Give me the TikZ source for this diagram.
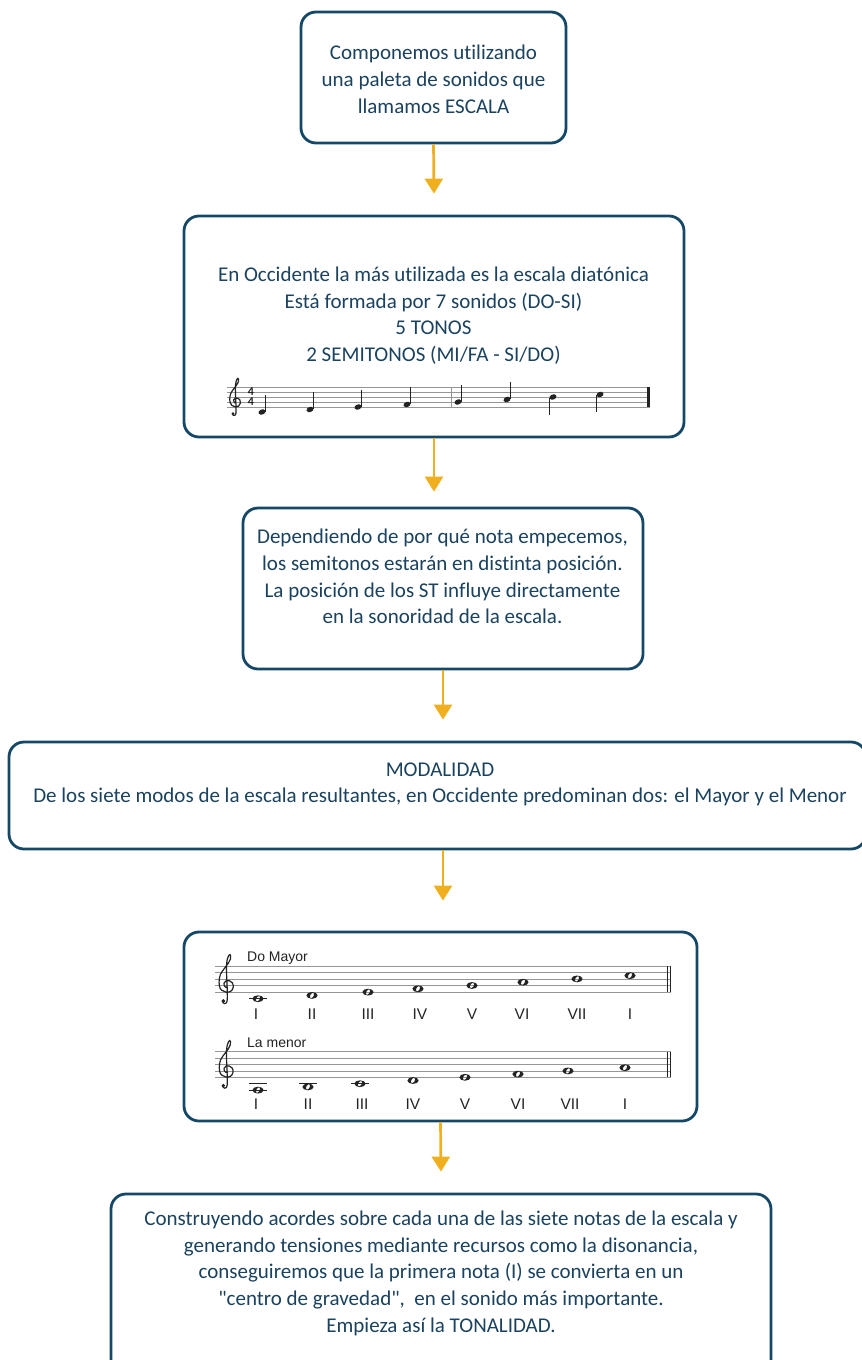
\documentclass[tikz,border=0pt]{standalone}
\usepackage{fontspec}
\setmainfont{Carlito}[Ligatures={TeXOff,NoCommon}]
\newfontfamily\arialf{Liberation Sans}
\usetikzlibrary{arrows.meta,calc}
\definecolor{navy}{RGB}{21,71,103}
\definecolor{txtc}{RGB}{27,66,94}
\definecolor{arrowc}{RGB}{240,175,30}
\definecolor{staffc}{RGB}{150,150,150}
\definecolor{notec}{RGB}{35,35,35}
\begin{document}
\begin{tikzpicture}[x=1pt,y=-1pt,
  box/.style={draw=navy,line width=2.8pt,rounded corners=15pt,fill=white,inner sep=0pt},
  body/.style={text=txtc,font=\fontsize{21}{26.7}\selectfont,align=center,inner sep=0pt},
  flow/.style={draw=arrowc,line width=2.7pt,-{Triangle[width=18pt,length=15pt]}},
  sline/.style={draw=staffc,line width=0.8pt},
  barl/.style={draw=notec,line width=0.9pt},
  stemline/.style={draw=notec,line width=0.9pt},
  lbl/.style={text=notec,font=\arialf\fontsize{14}{14}\selectfont,inner sep=0pt,anchor=west},
  rn/.style={text=notec,font=\arialf\fontsize{15.5}{15.5}\selectfont,inner sep=0pt},
  tsig/.style={text=notec,font=\bfseries\fontsize{12}{12}\selectfont,inner sep=0pt},
  gclef/.pic={
    \draw[notec,line width=1.2pt,yscale=-1] (0.2,-1.2)
      .. controls (0.25,0.5) and (0.0,3.0) .. (0.1,4.4)
      .. controls (0.2,5.5) and (0.6,6.0) .. (0.7,5.6)
      .. controls (0.9,4.9) and (0.0,4.0) .. (-0.5,3.3)
      .. controls (-1.1,2.6) and (-1.1,1.6) .. (-1.0,1.0)
      .. controls (-0.9,-0.1) and (0.9,-0.4) .. (1.1,0.8)
      .. controls (1.2,1.9) and (-0.1,2.1) .. (-0.3,1.4)
      .. controls (-0.4,0.9) and (0.1,0.6) .. (0.3,0.8);
    \draw[notec,line width=1.2pt,yscale=-1] (0.2,-1.2)
      .. controls (0.15,-1.9) and (-0.5,-1.8) .. (-0.55,-1.3);
    \fill[notec,yscale=-1] (-0.4,-1.3) circle (0.3);
  },
  wnote/.pic={
    \fill[notec,even odd rule] (0,0) circle [x radius=5.6pt, y radius=3.4pt]
      (0,0) circle [x radius=2.9pt, y radius=1.7pt, rotate=60];
  },
  qnote/.pic={
    \fill[notec] (0,0) circle [x radius=3.6pt, y radius=2.6pt, rotate=20];
  }]
\useasboundingbox (0,0) rectangle (862,1360);
\clip (0,0) rectangle (862,1360);

% ---------- boxes ----------
\node[box,minimum width=265pt,minimum height=131pt] (b1) at (433.5,77.5) {};
\node[box,minimum width=500pt,minimum height=221pt] (b2) at (434,326.5) {};
\node[box,minimum width=400pt,minimum height=161pt] (b3) at (443,588.5) {};
\node[box,minimum width=857pt,minimum height=107pt] (b4) at (437.5,795.5) {};
\node[box,minimum width=513pt,minimum height=189pt] (b5) at (440.5,1026.5) {};
\node[box,minimum width=660pt,minimum height=186pt] (b6) at (441,1287) {};

% ---------- texts ----------
\node[body] (t1) at (433.5,79.2) {Componemos utilizando\\una paleta de sonidos que\\llamamos ESCALA};
\node[body] (t2) at (433.5,315.6) {En Occidente la más utilizada es la escala diatónica\\Está formada por 7 sonidos (DO-SI)\\5 TONOS\\2 SEMITONOS (MI/FA - SI/DO)};
\node[body] (t3) at (442.5,576.7) {Dependiendo de por qué nota empecemos,\\los semitonos estarán en distinta posición.\\La posición de los ST influye directamente\\en la sonoridad de la escala.};
\node[body] (t4) at (440,784.5) {MODALIDAD\\De los siete modos de la escala resultantes, en Occidente predominan dos: el Mayor y el Menor};
\node[body] (t6) at (441,1273.3) {Construyendo acordes sobre cada una de las siete notas de la escala y\\generando tensiones mediante recursos como la disonancia,\\conseguiremos que la primera nota (I) se convierta en un\\"centro de gravedad",\ \ en el sonido más importante.\\Empieza así la TONALIDAD.};

% ---------- arrows ----------
\draw[flow] (b1.south) -- ($(b2.north)+(0,-21)$);
\draw[flow] (b2.south) -- ($(b3.north -| b2.south)+(0,-15)$);
\draw[flow] (b3.south) -- ($(b4.north -| b3.south)+(0,-21)$);
\draw[flow] (b3.south |- b4.south) -- ($(b3.south |- b5.north)+(0,-30)$);
\draw[flow] (b5.south) -- ($(b6.north)+(0,-21)$);

% ---------- staff in box 2 ----------
\foreach \k in {0,...,4} \draw[sline] (227,{387+\k*5}) -- (650,{387+\k*5});
\pic[scale=5] at (235,407) {gclef};
\node[tsig] (ts1) at (251,392) {4};
\node[tsig] (ts2) at (251,402) {4};
\foreach \x/\y in {262/412,310/409.5,358/407,407/404.5,458/402,507/399.5} {
  \pic at (\x,\y) {qnote};
  \draw[stemline] ({\x+3.3},{\y-0.5}) -- ({\x+3.3},{\y-17.5});
}
\foreach \x/\y in {553/397,600/394.5} {
  \pic at (\x,\y) {qnote};
  \draw[stemline] ({\x-3.3},{\y+0.5}) -- ({\x-3.3},{\y+17.5});
}
\draw[draw=staffc,line width=0.9pt] (451,387) -- (451,407);
\draw[draw=notec,line width=2.6pt] (648.5,387) -- (648.5,407);

% ---------- Do Mayor ----------
\foreach \k in {0,...,4} \draw[sline] (215,{966+\k*6.6}) -- (671,{966+\k*6.6});
\pic[scale=6.6] at (226,992.4) {gclef};
\node[lbl] (dm) at (247,958) {Do Mayor};
\draw[barl] (249,998.7) -- (267,998.7);
\foreach \x/\y in {258/998.7,312/995.4,368/992.1,418/988.8,472/985.5,523/982.2,577/978.9,630/975.6}
  \pic at (\x,\y) {wnote};
\draw[draw=notec,line width=1.3pt] (667.3,966) -- (667.3,992.4);
\draw[draw=notec,line width=1.3pt] (670.7,966) -- (670.7,992.4);
\foreach \x/\t [count=\i] in {256/I,312/II,368/III,420/IV,472/V,522/VI,577/VII,630/I}
  \node[rn] (ra\i) at (\x,1014.5) {\t};

% ---------- La menor ----------
\foreach \k in {0,...,4} \draw[sline] (215,{1051.7+\k*6.4}) -- (671,{1051.7+\k*6.4});
\pic[scale=6.4] at (226,1077.3) {gclef};
\node[lbl] (lm) at (247,1043) {La menor};
\draw[barl] (249,1083.7) -- (267,1083.7);
\draw[barl] (249,1090.1) -- (267,1090.1);
\draw[barl] (299,1083.7) -- (317,1083.7);
\draw[barl] (351,1083.7) -- (369,1083.7);
\foreach \x/\y in {258/1090.1,308/1086.9,360/1083.7,413/1080.5,465/1077.3,518/1074.1,568/1070.9,625/1067.7}
  \pic at (\x,\y) {wnote};
\draw[draw=notec,line width=1.3pt] (667.3,1051.7) -- (667.3,1077.3);
\draw[draw=notec,line width=1.3pt] (670.7,1051.7) -- (670.7,1077.3);
\foreach \x/\t [count=\i] in {256/I,308/II,362/III,413/IV,465/V,518/VI,570/VII,625/I}
  \node[rn] (rb\i) at (\x,1104) {\t};
\end{tikzpicture}
\end{document}
